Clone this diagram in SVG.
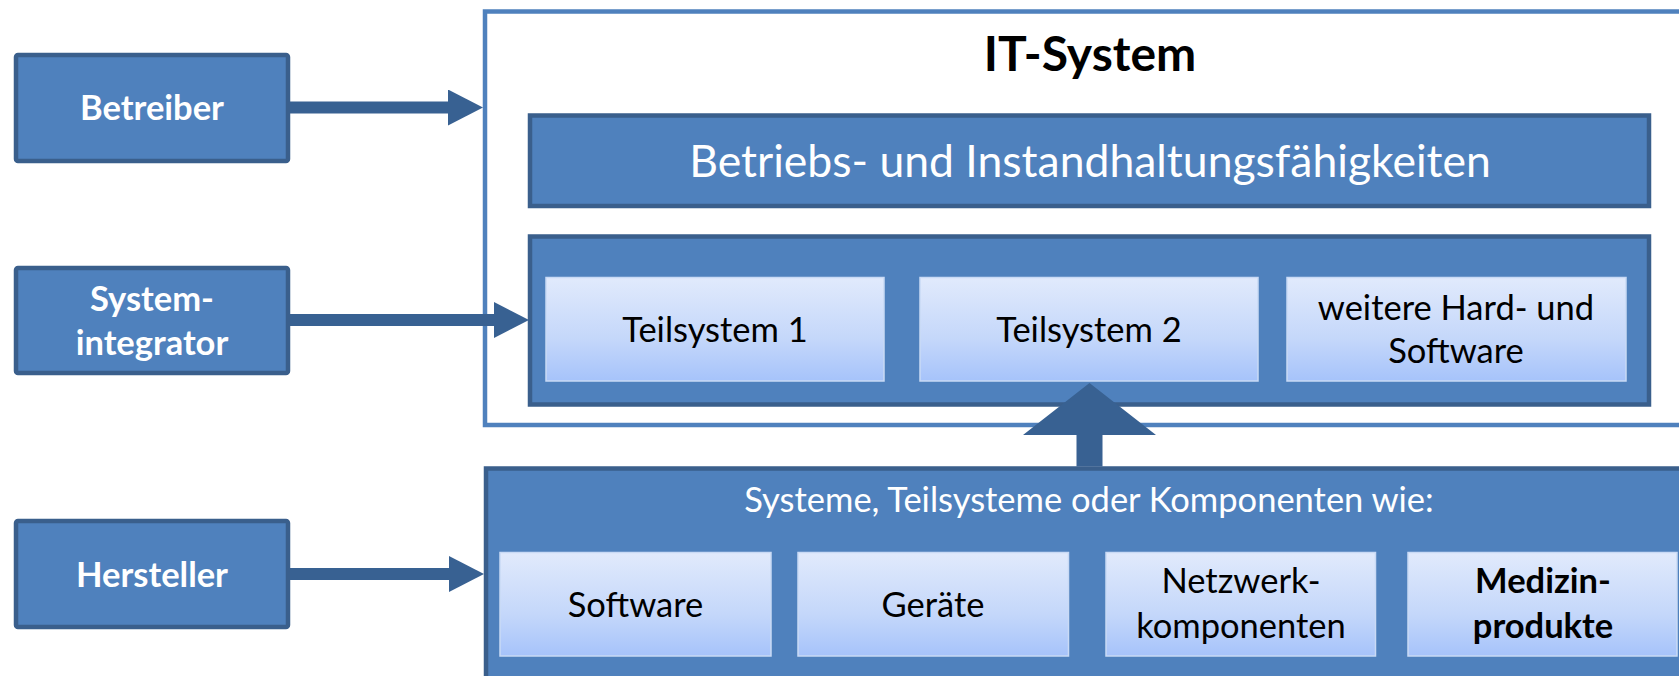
<svg xmlns="http://www.w3.org/2000/svg" width="1679" height="676" viewBox="0 0 1679 676">
  <defs>
    <linearGradient id="lightGrad" x1="0" y1="0" x2="0" y2="1">
      <stop offset="0" stop-color="#E1EAFC"/>
      <stop offset="0.6" stop-color="#C4D7FA"/>
      <stop offset="1" stop-color="#A6C3FA"/>
    </linearGradient>
    <marker id="head" markerUnits="userSpaceOnUse" markerWidth="35" markerHeight="36" viewBox="0 0 35 36" refX="0" refY="18" orient="auto">
      <path d="M0,0 L35,18 L0,36 Z" fill="#386192"/>
    </marker>
  </defs>
  <style>
    .blue { fill: #4F81BD; stroke: #3A5F8C; stroke-width: 4.5; }
    .light { fill: url(#lightGrad); stroke: #C9DAF5; stroke-width: 1.5; }
    .outer { fill: #FFFFFF; stroke: #4F81BD; stroke-width: 4.5; }
    .conn { stroke: #386192; stroke-width: 12; fill: none; }
    text { font-family: Lato, "Liberation Sans", sans-serif; text-anchor: middle; }
    .wb { fill: #FFFFFF; font-weight: bold; font-size: 34.5px; }
    .w { fill: #FFFFFF; }
    .k { fill: #000000; font-size: 34.5px; }
  </style>

  <g id="it-system">
    <rect class="outer" x="485" y="11.5" width="1300" height="413.5"/>
    <text x="1090" y="71" font-size="48" font-weight="bold" fill="#000">IT-System</text>
  </g>

  <g id="betriebsfaehigkeiten">
    <rect class="blue" x="530" y="115.5" width="1119" height="90.5"/>
    <text class="w" x="1090" y="177" font-size="44.5">Betriebs- und Instandhaltungsfähigkeiten</text>
  </g>

  <g id="teilsysteme">
    <rect class="blue" x="530" y="236.5" width="1119" height="168"/>
  </g>
  <g id="teilsystem1">
    <rect class="light" x="546" y="277.5" width="338" height="103.5"/>
    <text class="k" x="715" y="342">Teilsystem 1</text>
  </g>
  <g id="teilsystem2">
    <rect class="light" x="920" y="277.5" width="338" height="103.5"/>
    <text class="k" x="1089" y="342">Teilsystem 2</text>
  </g>
  <g id="weitere">
    <rect class="light" x="1287" y="277.5" width="339" height="103.5"/>
    <text class="k" x="1456" y="320">weitere Hard- und</text>
    <text class="k" x="1456" y="363">Software</text>
  </g>

  <g id="komponenten">
    <rect class="blue" x="486" y="468.5" width="1300" height="300"/>
    <text class="w" x="1089" y="512" font-size="34.5">Systeme, Teilsysteme oder Komponenten wie:</text>
  </g>
  <g id="software">
    <rect class="light" x="500" y="552.5" width="271" height="103.5"/>
    <text class="k" x="635.5" y="617">Software</text>
  </g>
  <g id="geraete">
    <rect class="light" x="798" y="552.5" width="270.5" height="103.5"/>
    <text class="k" x="933" y="617">Geräte</text>
  </g>
  <g id="netzwerk">
    <rect class="light" x="1106" y="552.5" width="269.5" height="103.5"/>
    <text class="k" x="1241" y="593">Netzwerk-</text>
    <text class="k" x="1241" y="638">komponenten</text>
  </g>
  <g id="medizin">
    <rect class="light" x="1408" y="552.5" width="269" height="103.5"/>
    <text class="k" x="1543" y="593" font-weight="bold">Medizin-</text>
    <text class="k" x="1543" y="638" font-weight="bold">produkte</text>
  </g>

  <g id="betreiber">
    <rect class="blue" x="16" y="55" width="272" height="106" rx="2"/>
    <text class="wb" x="152" y="119.5">Betreiber</text>
  </g>
  <g id="systemintegrator">
    <rect class="blue" x="16" y="268" width="272" height="105" rx="2"/>
    <text class="wb" x="152" y="311">System-</text>
    <text class="wb" x="152" y="355">integrator</text>
  </g>
  <g id="hersteller">
    <rect class="blue" x="16" y="521" width="272" height="106" rx="2"/>
    <text class="wb" x="152" y="587">Hersteller</text>
  </g>

  <g id="connectors">
    <line class="conn" x1="290" y1="107.5" x2="448" y2="107.5" marker-end="url(#head)"/>
    <line class="conn" x1="290" y1="320" x2="494" y2="320" marker-end="url(#head)"/>
    <line class="conn" x1="290" y1="574" x2="449" y2="574" marker-end="url(#head)"/>
    <path d="M1076.5,466.5 L1076.5,435 L1023,435 L1089.5,383 L1156,435 L1102.5,435 L1102.5,466.5 Z" fill="#386192"/>
  </g>
</svg>
